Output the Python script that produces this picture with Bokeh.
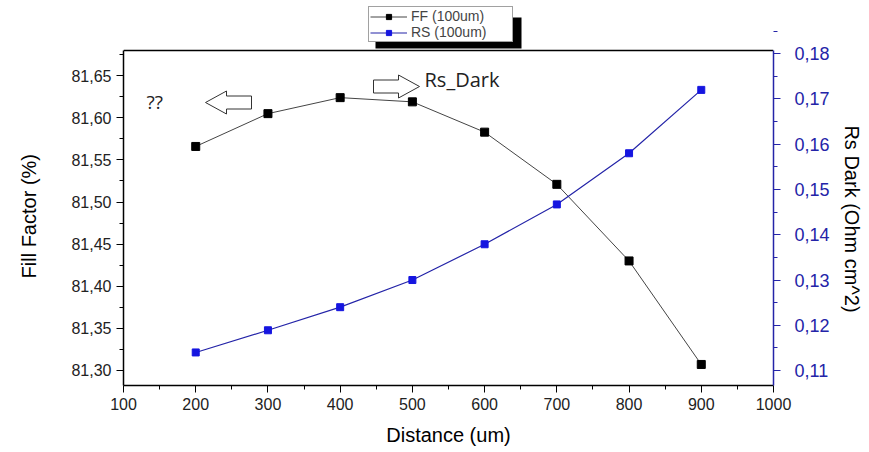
import math
from bokeh.plotting import figure
from bokeh.models import (Range1d, LinearAxis, FixedTicker, CustomJSTickFormatter,
                          Legend, LegendItem, Label)
from bokeh.embed import file_html
from bokeh.resources import INLINE

distance = [200, 300, 400, 500, 600, 700, 800, 900]
ff = [81.566, 81.605, 81.624, 81.619, 81.583, 81.521, 81.430, 81.307]
rs = [0.1140, 0.1189, 0.1240, 0.1300, 0.1379, 0.1467, 0.1580, 0.1720]

x_ticks = [100, 200, 300, 400, 500, 600, 700, 800, 900, 1000]
ff_ticks = [81.30, 81.35, 81.40, 81.45, 81.50, 81.55, 81.60, 81.65]
rs_ticks = [0.11, 0.12, 0.13, 0.14, 0.15, 0.16, 0.17, 0.18]

BLUE = "#2424a8"
FONT = "Liberation Sans"
PAD = "\u00a0" * 8   # shifts rotated axis titles down to centre them on the axis box

W, H = 866, 448
LEFT, RIGHT, TOP, BOTTOM = 123, 773, 50, 385   # axis box
FTOP = 2                                         # frame top (room for legend)
XR = (100, 1000)
YL = (81.282, 81.680)
YR = (0.1067, 0.1807)

ky_l = (YL[1] - YL[0]) / (BOTTOM - TOP)
ky_r = (YR[1] - YR[0]) / (BOTTOM - TOP)
YL_ext = (YL[0], YL[1] + (TOP - FTOP) * ky_l)
YR_ext = (YR[0], YR[1] + (TOP - FTOP) * ky_r)

p = figure(width=W, height=H, output_backend="svg", toolbar_location=None,
           x_range=Range1d(*XR), y_range=Range1d(*YL_ext),
           min_border_left=LEFT, min_border_right=W - RIGHT,
           min_border_top=FTOP, min_border_bottom=H - BOTTOM)
p.extra_y_ranges = {"rs": Range1d(*YR_ext)}
p.grid.visible = False
p.outline_line_color = None
p.background_fill_color = "white"
p.border_fill_color = "white"

fmt = CustomJSTickFormatter(code="return tick.toFixed(2).replace('.', ',');")

def style_axis(ax, color):
    ax.axis_line_color = color
    ax.axis_line_width = 1.5
    ax.major_tick_line_color = color
    ax.minor_tick_line_color = color
    ax.major_tick_out = 7
    ax.major_tick_in = 0
    ax.minor_tick_out = 4
    ax.minor_tick_in = 0
    ax.major_label_text_font = FONT
    ax.major_label_text_font_size = "16px"
    ax.major_label_text_color = "#222222" if color == "black" else color
    ax.axis_label_text_font_style = "normal"
    ax.axis_label_text_color = "black"

xa = p.xaxis[0]
xa.ticker = FixedTicker(ticks=x_ticks, minor_ticks=[v + 50 for v in x_ticks[:-1]])
style_axis(xa, "black")
xa.axis_label = "Distance (um)"
xa.axis_label_text_font = FONT
xa.axis_label_text_font_size = "20px"
xa.axis_label_standoff = 11

ya = p.yaxis[0]
ya.bounds = YL
ya.ticker = FixedTicker(ticks=ff_ticks, minor_ticks=[v + 0.025 for v in ff_ticks])
ya.formatter = fmt
style_axis(ya, "black")
ya.axis_label = "Fill Factor (%)" + PAD
ya.axis_label_text_font = FONT
ya.axis_label_text_font_size = "20px"
ya.axis_label_standoff = 28

ra = LinearAxis(y_range_name="rs", bounds=YR)
ra.ticker = FixedTicker(ticks=rs_ticks, minor_ticks=[v + 0.005 for v in rs_ticks])
ra.formatter = fmt
style_axis(ra, BLUE)
ra.major_label_text_font_size = "18px"
ra.major_label_standoff = 14
ra.axis_label = PAD + PAD[:1] + "Rs Dark (Ohm cm^2)"
ra.axis_label_text_font = FONT
ra.axis_label_text_font_size = "20px"
ra.axis_label_standoff = 8
p.add_layout(ra, "right")

# top border of the axis box
p.line([XR[0], XR[1]], [YL[1], YL[1]], line_color="black", line_width=1.5)

l1 = p.line(distance, ff, line_color="#444444", line_width=1)
m1 = p.scatter(distance, ff, marker="square", size=8, fill_color="black", line_color="black")
l2 = p.line(distance, rs, line_color=BLUE, line_width=1.2, y_range_name="rs")
m2 = p.scatter(distance, rs, marker="square", size=7, fill_color="#1515e0", line_color="#1515e0",
               y_range_name="rs")

def px2x(px):
    return XR[0] + (px - LEFT) / (RIGHT - LEFT) * (XR[1] - XR[0])

def py2y(py):
    return YL[1] - (py - TOP) * ky_l

def block_arrow(tip_x, cy, length, direction):
    hl, hh, sh = 21, 11.5, 6.5
    d = direction
    pts = [(tip_x, cy), (tip_x - d * hl, cy - hh), (tip_x - d * hl, cy - sh),
           (tip_x - d * length, cy - sh), (tip_x - d * length, cy + sh),
           (tip_x - d * hl, cy + sh), (tip_x - d * hl, cy + hh)]
    return [px2x(a) for a, b in pts], [py2y(b) for a, b in pts]

ax1, ay1 = block_arrow(205, 102, 46, -1)
ax2, ay2 = block_arrow(419, 86, 46, 1)
p.patch(ax1, ay1, fill_color="white", line_color="#333333", line_width=1)
p.patch(ax2, ay2, fill_color="white", line_color="#333333", line_width=1)

p.add_layout(Label(x=px2x(146), y=py2y(114), text="??", text_font="Open Sans",
                   text_font_size="19px", text_color="#222222"))
p.add_layout(Label(x=px2x(424), y=py2y(92), text="Rs_Dark", text_font="Open Sans",
                   text_font_size="20px", text_color="#222222"))

# legend shadow
p.quad(left=[px2x(375)], right=[px2x(521)], top=[py2y(17)], bottom=[py2y(48)],
       fill_color="black", line_color=None)

legend = Legend(items=[LegendItem(label="FF (100um)", renderers=[l1, m1]),
                       LegendItem(label="RS (100um)", renderers=[l2, m2])],
                location=(368 - LEFT, BOTTOM - 42),
                orientation="vertical",
                label_text_font=FONT, label_text_font_size="14px",
                label_height=13, glyph_height=13, glyph_width=37, label_width=100,
                spacing=0, padding=1, margin=0,
                border_line_color="#444444", border_line_width=1,
                background_fill_color="white", background_fill_alpha=1,
                label_standoff=4)
p.add_layout(legend, "center")

open("out.html", "w").write(file_html(p, INLINE))
